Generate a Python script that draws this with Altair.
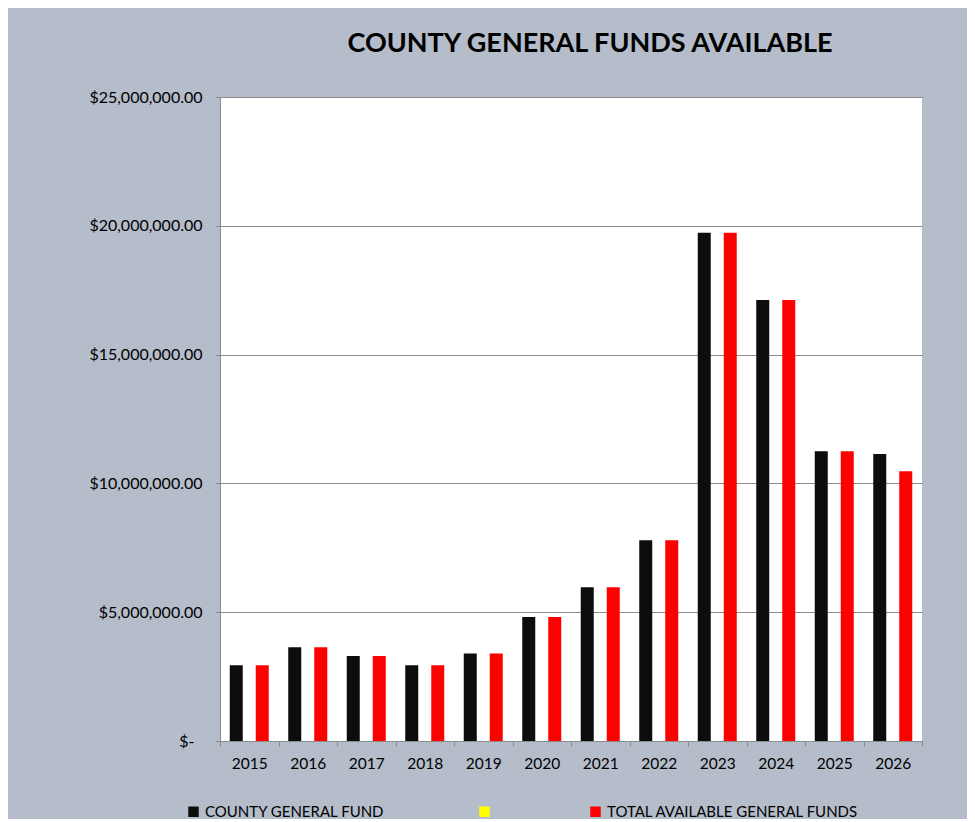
import altair as alt
import pandas as pd

years = ["2015", "2016", "2017", "2018", "2019", "2020", "2021", "2022", "2023", "2024", "2025", "2026"]
county_general_fund = [2.94e6, 3.64e6, 3.30e6, 2.94e6, 3.40e6, 4.81e6, 5.97e6, 7.79e6, 19.73e6, 17.12e6, 11.25e6, 11.14e6]
total_available = [2.94e6, 3.64e6, 3.30e6, 2.94e6, 3.40e6, 4.81e6, 5.97e6, 7.79e6, 19.73e6, 17.12e6, 11.25e6, 10.47e6]
series_names = ["COUNTY GENERAL FUND", " ", "TOTAL AVAILABLE GENERAL FUNDS"]
series_colors = ["#0D0D0D", "#FFFF00", "#FF0000"]
y_ticks = [0, 5e6, 10e6, 15e6, 20e6, 25e6]

rows = []
for yr, c, t in zip(years, county_general_fund, total_available):
    rows.append({"year": yr, "series": series_names[0], "value": c})
    rows.append({"year": yr, "series": series_names[2], "value": t})
df = pd.DataFrame(rows)

FONT = "Lato"

chart = alt.Chart(df).mark_bar().encode(
    x=alt.X("year:N", sort=years, title=None,
            scale=alt.Scale(paddingInner=0, paddingOuter=0),
            axis=alt.Axis(tickBand="extent", labelAngle=0, domainColor="#8C8C8C",
                          tickColor="#8C8C8C", tickSize=5, labelPadding=10,
                          labelFont=FONT, labelFontSize=15.5, labelColor="#000000",
                          grid=False)),
    xOffset=alt.XOffset("series:N", scale=alt.Scale(domain=series_names, paddingInner=0, paddingOuter=0.75)),
    y=alt.Y("value:Q", title=None,
            scale=alt.Scale(domain=[0, 25e6], nice=False),
            axis=alt.Axis(values=y_ticks,
                          labelExpr="datum.value == 0 ? '$-' : '$' + format(datum.value, ',.2f')",
                          domainColor="#8C8C8C", tickColor="#8C8C8C", tickSize=5,
                          labelPadding={"condition": {"test": "datum.value == 0", "value": 21}, "value": 13},
                          gridColor="#8C8C8C", gridWidth=1,
                          labelFont=FONT, labelFontSize=16, labelColor="#000000")),
    color=alt.Color("series:N",
                    scale=alt.Scale(domain=series_names, range=series_colors),
                    legend=alt.Legend(orient="none", legendX=-34, legendY=707,
                                      direction="horizontal", title=None,
                                      symbolType="square", symbolSize=110,
                                      symbolStrokeWidth=0, labelFont=FONT,
                                      labelFontSize=15, labelColor="#000000",
                                      labelLimit=0,
                                      columnPadding=92, labelOffset=4)),
).properties(
    width=702,
    height=644,
    title=alt.TitleParams("COUNTY GENERAL FUNDS AVAILABLE", font=FONT, fontSize=27,
                          fontWeight="bold", color="#000000", anchor="middle",
                          dx=19, offset=31),
    background="#B5BCCA",
    padding={"left": 212, "top": 89, "right": 45, "bottom": 78},
    autosize=alt.AutoSizeParams(type="none"),
).configure_view(fill="white", stroke=None)

chart.save("out.html", embed_options={"renderer": "svg", "actions": False})
